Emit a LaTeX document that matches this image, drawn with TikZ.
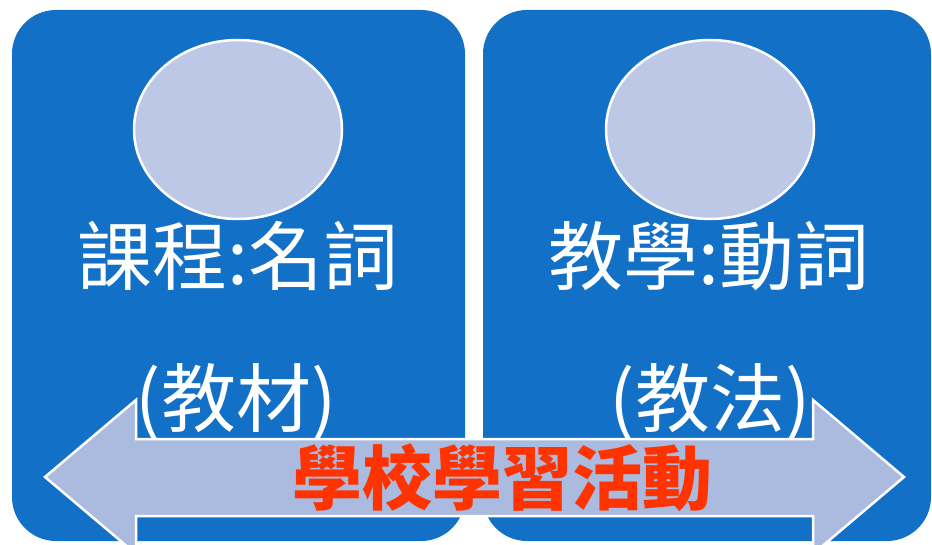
\documentclass[tikz,border=0pt]{standalone}
\usepackage{fontspec}
\newfontfamily\cjk{Noto Sans CJK TC}
\usetikzlibrary{shapes.geometric}
\definecolor{boxblue}{HTML}{1270C6}
\definecolor{ovalfill}{HTML}{BCC8E6}
\definecolor{arrowfill}{HTML}{ABBADF}
\definecolor{redtext}{HTML}{FF3300}
\tikzset{
  panel/.style={fill=boxblue, draw=none, rounded corners=44pt, inner sep=0pt, minimum width=453pt, minimum height=531pt},
  oval/.style={ellipse, fill=ovalfill, draw=white, line width=2.5pt, minimum width=208pt, minimum height=179pt, inner sep=0pt},
  wtext/.style={text=white, font=\cjk\fontsize{75}{88}\selectfont, inner sep=0pt},
  rtext/.style={text=redtext, font=\cjk\bfseries\fontsize{70}{82}\selectfont, inner sep=0pt},
  arrowshape/.style={fill=arrowfill, draw=white, line width=2.5pt, line join=miter}
}
\begin{document}
\begin{tikzpicture}[x=1pt,y=-1pt]
\useasboundingbox (0,0) rectangle (932,545);
\node[panel] (lbox) at (238.5,275.5) {};
\node[panel, minimum width=448pt] (rbox) at (707,275.5) {};
\node[oval] (loval) at (238,129.5) {};
\node[oval] (roval) at (710,129.5) {};
\node[wtext] (lt1) at (238,256) {課程:名詞};
\node[wtext] (rt1) at (709,256) {教學:動詞};
\node[wtext] (lt2) at (236,402) {(教材)};
\node[wtext] (rt2) at (710,402) {(教法)};
\draw[arrowshape] (45,477) -- (136,400) -- (136,439) -- (813,439) -- (813,400) -- (904,477) -- (813,554) -- (813,516) -- (136,516) -- (136,554) -- cycle;
\node[rtext] (mid) at (502,478) {學校學習活動};
\end{tikzpicture}
\end{document}
